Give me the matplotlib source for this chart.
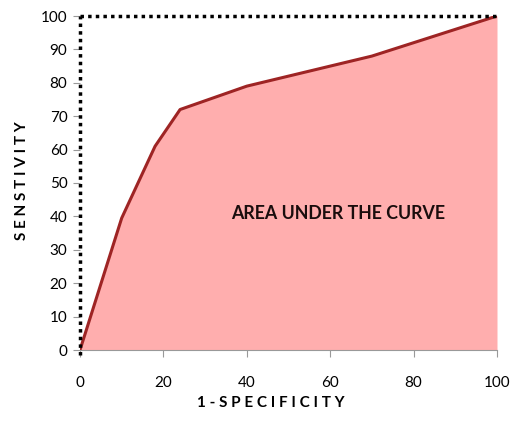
import matplotlib
matplotlib.use("Agg")
import matplotlib.pyplot as plt

# ROC-style curve values
fpr = [0, 10, 18, 24, 40, 60, 70, 85, 100]
tpr = [0, 39.5, 61, 72, 79, 85, 88, 94, 100]
ticks = [0, 20, 40, 60, 80, 100]
yticks = [0, 10, 20, 30, 40, 50, 60, 70, 80, 90, 100]

plt.rcParams['font.family'] = ['Lato', 'DejaVu Sans']

fig = plt.figure(figsize=(5.21, 4.25), dpi=100)
ax = fig.add_axes([80 / 521, 1 - 350 / 425, 417 / 521, 334 / 425])

ax.fill_between(fpr, tpr, 0, color='#FFAEAE', linewidth=0)
ax.plot(fpr, tpr, color='#9E2424', linewidth=2.2, solid_joinstyle='round')

# dotted reference lines on left and top
ax.plot([0, 0], [-1.5, 100], color='black', linestyle=(0, (1, 1.2)), linewidth=2.5,
        clip_on=False)
ax.plot([0, 100], [100, 100], color='black', linestyle=(0, (1, 1.2)), linewidth=2.5,
        clip_on=False)

ax.set_xlim(0, 100)
ax.set_ylim(0, 100)
ax.set_xticks(ticks)
ax.set_yticks(yticks)
for s in ['top', 'right', 'left']:
    ax.spines[s].set_visible(False)
ax.spines['bottom'].set_color('#999999')
ax.tick_params(axis='x', direction='out', length=5, color='#999999', labelsize=11,
               pad=14)
ax.tick_params(axis='y', direction='out', length=5, color='#999999', labelsize=11,
               pad=4)

# axis titles, letter spaced like the original
fig.text(271 / 521, 1 - 403 / 425, '1 - S P E C I F I C I T Y', fontsize=11,
         fontweight='bold', ha='center', va='center')
fig.text(22 / 521, 1 - 181 / 425, 'S E N S T I V I T Y', fontsize=11,
         fontweight='bold', ha='center', va='center', rotation=90)

ax.text(62, 41, 'AREA UNDER THE CURVE', fontsize=12.8, fontweight='bold',
        ha='center', va='center', color='#1a0d0d')

fig.savefig('out.png', dpi=100)
